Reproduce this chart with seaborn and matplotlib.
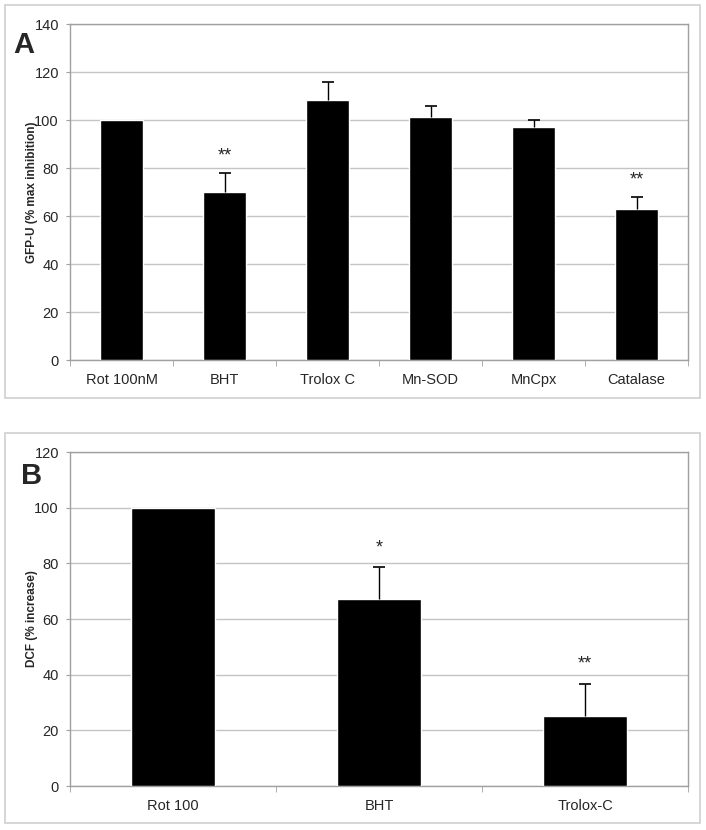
import pandas as pd
import seaborn as sns
import matplotlib.pyplot as plt
from matplotlib.patches import Rectangle

# Panel A data
kat_a = ['Rot 100nM', 'BHT', 'Trolox C', 'Mn-SOD', 'MnCpx', 'Catalase']
wart_a = [100, 70, 108.4, 101.2, 97, 63]
blad_a = [0, 8, 7.5, 4.5, 2.8, 5]
gwiazdki_a = ['', '**', '', '', '', '**']

# Panel B data
kat_b = ['Rot 100', 'BHT', 'Trolox-C']
wart_b = [100, 67.3, 25]
blad_b = [0, 11.3, 11.7]
gwiazdki_b = ['', '*', '**']

sns.set_style('white')
plt.rcParams['font.family'] = ['Liberation Sans', 'DejaVu Sans']

f = plt.figure(figsize=(7.06, 8.3), dpi=100)

# ramki paneli
for y0, h in [(5, 393), (433, 390)]:
    f.patches.append(Rectangle((5 / 706, 1 - (y0 + h) / 830), 695 / 706, h / 830,
                               transform=f.transFigure, fill=False,
                               edgecolor='#cfcfcf', linewidth=1.2))

ax1 = f.add_axes([70 / 706, 1 - 360 / 830, 618 / 706, 336 / 830])
ax2 = f.add_axes([70 / 706, 1 - 786 / 830, 618 / 706, 334 / 830])


def rysuj(ax, kat, wart, blad, gw, ymax, ylab, star_off):
    df = pd.DataFrame({'kat': kat, 'wart': wart})
    sns.barplot(data=df, x='kat', y='wart', color='black', width=0.41,
                errorbar=None, ax=ax, zorder=3, saturation=1)
    x = list(range(len(kat)))
    ok = [i for i in x if blad[i] > 0]
    _, caps, _ = ax.errorbar(ok, [wart[i] for i in ok],
                             yerr=[[0] * len(ok), [blad[i] for i in ok]],
                             fmt='none', ecolor='black', elinewidth=1,
                             capsize=4, capthick=1.2, zorder=4)
    caps[0].set_visible(False)  # tylko gorne "wasy" jak w Excelu
    for i in x:
        if gw[i]:
            ax.text(i, wart[i] + blad[i] + star_off, gw[i], ha='center',
                    va='center', fontsize=13)
    ax.set_ylim(0, ymax)
    ax.set_xlim(-0.5, len(kat) - 0.5)
    ax.set_yticks(range(0, ymax + 1, 20))
    ax.yaxis.grid(True, color='#c4c4c4', linewidth=1, zorder=0)
    ax.set_axisbelow(True)
    for s in ax.spines.values():
        s.set_color('#a0a0a0')
        s.set_linewidth(1)
    ax.set_xticks([i + 0.5 for i in range(-1, len(kat))], minor=True)
    ax.tick_params(axis='x', which='major', length=0, pad=9, labelsize=10.5)
    ax.tick_params(axis='x', which='minor', length=4, color='#a0a0a0', bottom=True)
    ax.tick_params(axis='y', length=3, color='#a0a0a0', left=True, labelsize=10.5, pad=5)
    ax.set(xlabel=None)
    ax.set_ylabel(ylab, fontsize=8.5, fontweight='bold')
    ax.yaxis.set_label_coords(-0.052, 0.5)


rysuj(ax1, kat_a, wart_a, blad_a, gwiazdki_a, 140, 'GFP-U (% max inhibition)', 7)
rysuj(ax2, kat_b, wart_b, blad_b, gwiazdki_b, 120, 'DCF (% increase)', 7)

f.text(13 / 706, 1 - 53 / 830, 'A', fontsize=21, fontweight='bold', va='baseline')
f.text(21 / 706, 1 - 484 / 830, 'B', fontsize=21, fontweight='bold', va='baseline')

f.savefig('out.png', dpi=100)
